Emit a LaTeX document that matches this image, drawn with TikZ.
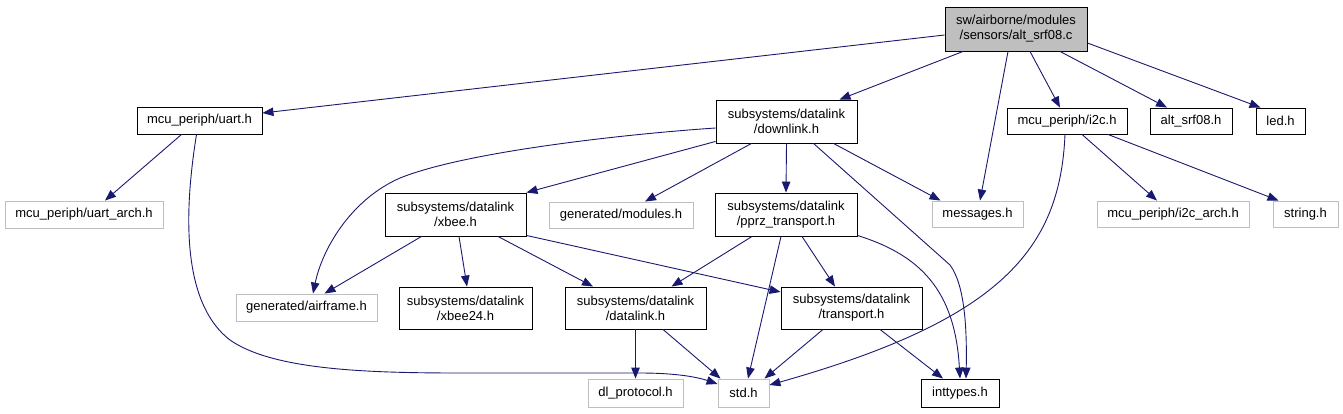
\documentclass[tikz,border=0pt]{standalone}
\usepackage{fontspec}
\setmainfont{Liberation Sans}
\usetikzlibrary{arrows.meta}
\definecolor{edgeblue}{HTML}{191970}
\definecolor{boxgray}{HTML}{BFBFBF}
\begin{document}
\begin{tikzpicture}[x=1pt,y=-1pt,
  box/.style={draw=black,line width=0.9pt,rectangle,inner sep=0pt,align=center,
    font=\fontsize{13}{15}\selectfont,text=black},
  graybox/.style={box,draw=boxgray},
  topbox/.style={box,fill=boxgray},
  edge/.style={draw=edgeblue,line width=0.9pt,-{Triangle[length=11pt,width=8.5pt]},fill=none},
]
\useasboundingbox (0,0) rectangle (1343,413);
% nodes
\node[topbox,minimum width=142pt,minimum height=44pt] (top) at (1016,29) {sw/airborne/modules\\/sensors/alt\_srf08.c};
\node[box,minimum width=125pt,minimum height=27pt] (uart) at (199.5,120.5) {mcu\_periph/uart.h};
\node[box,minimum width=141pt,minimum height=43pt] (downlink) at (786.5,121.5) {subsystems/datalink\\/downlink.h};
\node[box,minimum width=120pt,minimum height=26pt] (i2c) at (1067,121) {mcu\_periph/i2c.h};
\node[box,minimum width=82pt,minimum height=26pt] (altsrf) at (1191,121) {alt\_srf08.h};
\node[box,minimum width=49pt,minimum height=26pt] (led) at (1280.5,121) {led.h};
\node[graybox,minimum width=158pt,minimum height=27pt] (uartarch) at (84,214.5) {mcu\_periph/uart\_arch.h};
\node[box,minimum width=141pt,minimum height=43pt] (xbee) at (455.5,214.5) {subsystems/datalink\\/xbee.h};
\node[graybox,minimum width=144pt,minimum height=26pt] (modules) at (621,215) {generated/modules.h};
\node[box,minimum width=142pt,minimum height=43pt] (pprz) at (786,214.5) {subsystems/datalink\\/pprz\_transport.h};
\node[graybox,minimum width=91pt,minimum height=26pt] (messages) at (977.5,214) {messages.h};
\node[graybox,minimum width=152pt,minimum height=26pt] (i2carch) at (1173,214) {mcu\_periph/i2c\_arch.h};
\node[graybox,minimum width=65pt,minimum height=26pt] (string) at (1305.5,214) {string.h};
\node[graybox,minimum width=141pt,minimum height=27pt] (airframe) at (306.5,307.5) {generated/airframe.h};
\node[box,minimum width=133pt,minimum height=42pt] (xbeetf) at (465.5,308) {subsystems/datalink\\/xbee24.h};
\node[box,minimum width=141pt,minimum height=42pt] (datalink) at (635.5,308) {subsystems/datalink\\/datalink.h};
\node[box,minimum width=141pt,minimum height=42pt] (transport) at (851.5,308) {subsystems/datalink\\/transport.h};
\node[graybox,minimum width=95pt,minimum height=28pt] (dlproto) at (635.5,393) {dl\_protocol.h};
\node[graybox,minimum width=51pt,minimum height=28pt] (std) at (743.5,393) {std.h};
\node[box,minimum width=78pt,minimum height=28pt] (inttypes) at (960,393) {inttypes.h};
% edges from top
\draw[edge] ([yshift=-6pt]top.west) -- ([yshift=7.5pt]uart.east);
\draw[edge] ([xshift=-53pt]top.south) -- ([xshift=53pt]downlink.north);
\draw[edge] ([xshift=-8pt]top.south) -- ([xshift=2.5pt]messages.north);
\draw[edge] ([xshift=14pt]top.south) -- ([xshift=-7pt]i2c.north);
\draw[edge] ([xshift=44pt]top.south) -- ([xshift=-24pt]altsrf.north);
\draw[edge] ([yshift=-14pt]top.east) -- ([xshift=-20pt]led.north);
% uart
\draw[edge] ([xshift=-18pt]uart.south) -- ([xshift=21pt]uartarch.north);
\draw[edge] ([xshift=-3pt]uart.south) .. controls (186,200) and (178,300) .. (230,340)
  .. controls (280,375) and (400,373) .. (500,373) -- (640,373)
  .. controls (680,373) and (700,378) .. ([yshift=9pt]std.west);
% downlink
\draw[edge] ([yshift=-6.5pt]downlink.west) .. controls (640,133) and (470,150) .. (400,178)
  .. controls (350,200) and (322,250) .. ([xshift=6.5pt]airframe.north);
\draw[edge] ([yshift=2pt]downlink.south west) -- (xbee.north east);
\draw[edge] ([xshift=-35pt]downlink.south) -- ([xshift=24pt]modules.north);
\draw[edge] (downlink.south) -- (pprz.north);
\draw[edge] ([xshift=47pt]downlink.south) -- ([xshift=-37pt]messages.north);
\draw[edge] ([xshift=27pt]downlink.south) -- (950,265) .. controls (965,285) and (967,330) .. ([xshift=6pt]inttypes.north);
% i2c
\draw[edge] ([xshift=-2pt]i2c.south) .. controls (1060,250) and (1000,320) .. ([yshift=8pt]std.east);
\draw[edge] ([xshift=15pt]i2c.south) -- ([xshift=-16pt]i2carch.north);
\draw[edge] ([xshift=41pt]i2c.south) -- ([xshift=-27pt]string.north);
% xbee
\draw[edge] ([xshift=-34pt]xbee.south) -- ([xshift=18pt]airframe.north);
\draw[edge] ([xshift=3.5pt]xbee.south) -- ([xshift=1.5pt]xbeetf.north);
\draw[edge] ([xshift=42.5pt]xbee.south) -- ([xshift=-42.5pt]datalink.north);
\draw[edge] ([yshift=1pt]xbee.south east) -- ([yshift=16pt]transport.west);
% pprz
\draw[edge] ([xshift=-34pt]pprz.south) -- ([xshift=36pt]datalink.north);
\draw[edge] ([xshift=-5pt]pprz.south) -- ([xshift=4.5pt]std.north);
\draw[edge] ([xshift=16pt]pprz.south) -- ([xshift=-16.5pt]transport.north);
\draw[edge] ([yshift=1pt]pprz.south east) .. controls (920,255) and (955,290) .. (inttypes.north);
% datalink
\draw[edge] (datalink.south) -- (dlproto.north);
\draw[edge] ([xshift=27.5pt]datalink.south) -- ([xshift=-23pt]std.north);
% transport
\draw[edge] ([xshift=-28.5pt]transport.south) -- ([xshift=21pt]std.north);
\draw[edge] ([xshift=28.5pt]transport.south) -- ([xshift=-17pt]inttypes.north);
\end{tikzpicture}
\end{document}
